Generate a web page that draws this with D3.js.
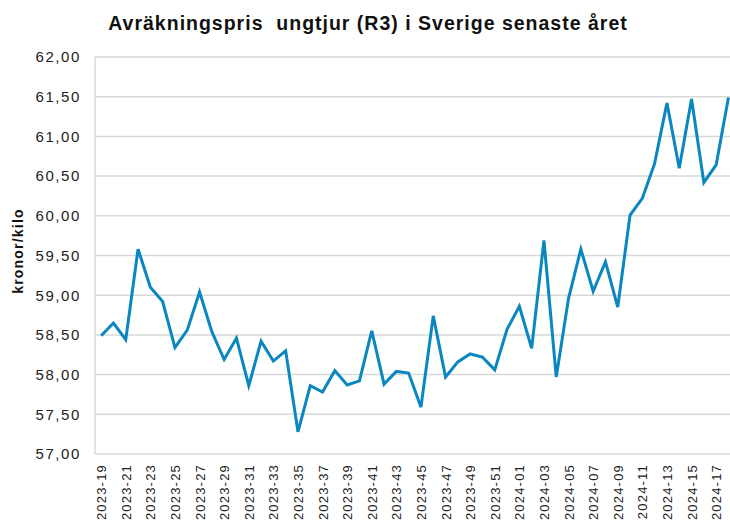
<!DOCTYPE html>
<html><head><meta charset="utf-8">
<script src="https://cdn.jsdelivr.net/npm/d3@7/dist/d3.min.js"></script>
<style>body{margin:0;background:#fff}svg{display:block}</style>
</head><body>
<svg id="c" width="730" height="520"></svg>
<script>
const weeks = [
 "2023-19","2023-20","2023-21","2023-22","2023-23","2023-24","2023-25","2023-26","2023-27","2023-28",
 "2023-29","2023-30","2023-31","2023-32","2023-33","2023-34","2023-35","2023-36","2023-37","2023-38",
 "2023-39","2023-40","2023-41","2023-42","2023-43","2023-44","2023-45","2023-46","2023-47","2023-48",
 "2023-49","2023-50","2023-51","2023-52","2024-01","2024-02","2024-03","2024-04","2024-05","2024-06",
 "2024-07","2024-08","2024-09","2024-10","2024-11","2024-12","2024-13","2024-14","2024-15","2024-16",
 "2024-17","2024-18"];
const prices = [
 58.49,58.65,58.44,59.58,59.10,58.92,58.34,58.56,59.04,58.54,
 58.19,58.46,57.86,58.42,58.17,58.30,57.28,57.86,57.78,58.05,
 57.87,57.92,58.55,57.88,58.04,58.02,57.59,58.74,57.97,58.16,
 58.26,58.22,58.06,58.57,58.86,58.33,59.69,57.97,58.96,59.58,
 59.05,59.42,58.85,60.01,60.22,60.66,61.42,60.60,61.47,60.42,
 60.64,61.49];
const yTicks = [57,57.5,58,58.5,59,59.5,60,60.5,61,61.5,62];
const title = "Avräkningspris  ungtjur (R3) i Sverige senaste året";
const yLabel = "kronor/kilo";

const svg = d3.select("#c");
const font = "'Liberation Sans', Arial, sans-serif";
const L = 95, T = 57, B = 454, bw = 12.3;
const R = L + bw * weeks.length;

const x = d3.scaleBand().domain(weeks).range([L, R]).paddingInner(0).paddingOuter(0);
const y = d3.scaleLinear().domain([57, 62]).range([B, T]);

// gridlines
svg.append("g").selectAll("line").data(yTicks).join("line")
  .attr("x1", L).attr("x2", 730)
  .attr("y1", d => y(d)).attr("y2", d => y(d))
  .attr("stroke", "#d9d9d9").attr("stroke-width", 1.5);
// left axis line
svg.append("line").attr("x1", L).attr("x2", L).attr("y1", T).attr("y2", B)
  .attr("stroke", "#d9d9d9").attr("stroke-width", 1.5);

// y axis
const fmt = d => d3.format(".2f")(d).replace(".", ",");
const yAxis = svg.append("g").attr("transform", `translate(${L},0)`)
  .call(d3.axisLeft(y).tickValues(yTicks).tickFormat(fmt).tickSize(0).tickPadding(14));
yAxis.select(".domain").remove();
yAxis.selectAll("text").attr("font-family", font).attr("font-size", 15)
  .attr("letter-spacing", 1.6).attr("fill", "#222");

// x axis
const xAxis = svg.append("g").attr("transform", `translate(0,${B})`)
  .call(d3.axisBottom(x).tickValues(weeks.filter((d, i) => i % 2 === 0)).tickSize(0).tickPadding(0));
xAxis.select(".domain").remove();
xAxis.selectAll("text")
  .attr("font-family", font).attr("font-size", 13).attr("letter-spacing", 1.2).attr("fill", "#222")
  .attr("text-anchor", "end").attr("dy", null).attr("y", 0)
  .attr("transform", "translate(5,10) rotate(-90)");

// line
svg.append("path").datum(prices)
  .attr("fill", "none").attr("stroke", "#0a86c1").attr("stroke-width", 3)
  .attr("stroke-linejoin", "miter")
  .attr("d", d3.line().x((d, i) => x(weeks[i]) + x.bandwidth() / 2).y(d => y(d)));

// title
svg.append("text").attr("x", 368).attr("y", 30).attr("text-anchor", "middle")
  .attr("font-family", font).attr("font-size", 19.5).attr("font-weight", "bold")
  .attr("letter-spacing", 1).attr("fill", "#111").attr("xml:space", "preserve").text(title);

// y label
svg.append("text").attr("transform", "translate(23,251) rotate(-90)")
  .attr("text-anchor", "middle").attr("font-family", font).attr("font-size", 14)
  .attr("letter-spacing", 1.2)
  .attr("font-weight", "bold").attr("fill", "#111").text(yLabel);
</script>
</body></html>
